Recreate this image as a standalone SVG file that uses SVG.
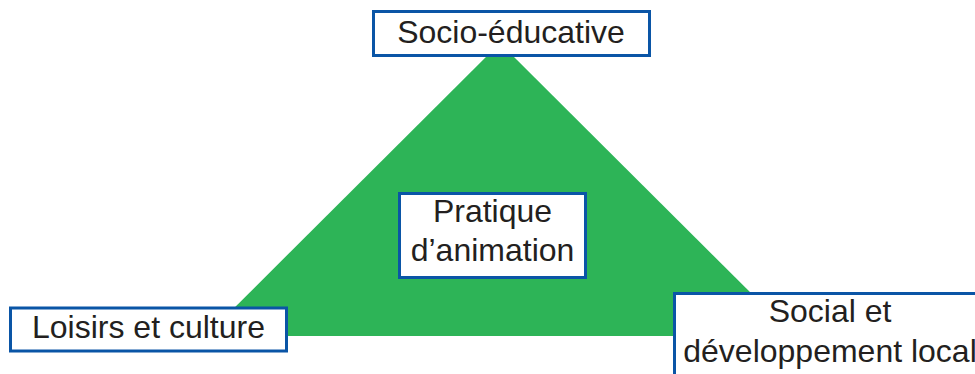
<svg xmlns="http://www.w3.org/2000/svg" width="975" height="374" viewBox="0 0 975 374">
<style>
.box{fill:#ffffff;stroke:#0a55a6;stroke-width:3}
.t{font-family:"Liberation Sans",Arial,sans-serif;font-size:32px;fill:#231f20;text-anchor:middle}
</style>
<rect width="975" height="374" fill="#ffffff"/>
<g id="triangle">
<polygon points="500,43 206,336 794,336" fill="#2db457"/>
</g>
<g id="connectors"></g>
<g id="socio-educative">
<rect class="box" x="373.5" y="11.5" width="276" height="44"/>
<text class="t" x="511" y="43">Socio-éducative</text>
</g>
<g id="pratique">
<rect class="box" x="399.5" y="193.5" width="186" height="84"/>
<text class="t" x="492.5" y="222">Pratique</text>
<text class="t" x="492.5" y="261">d’animation</text>
</g>
<g id="loisirs">
<rect class="box" x="10.5" y="308" width="276" height="43"/>
<text class="t" x="148.5" y="338">Loisirs et culture</text>
</g>
<g id="social">
<rect class="box" x="674.5" y="293.5" width="320" height="120"/>
<text class="t" x="830" y="322">Social et</text>
<text class="t" x="830" y="362">développement local</text>
</g>
</svg>
